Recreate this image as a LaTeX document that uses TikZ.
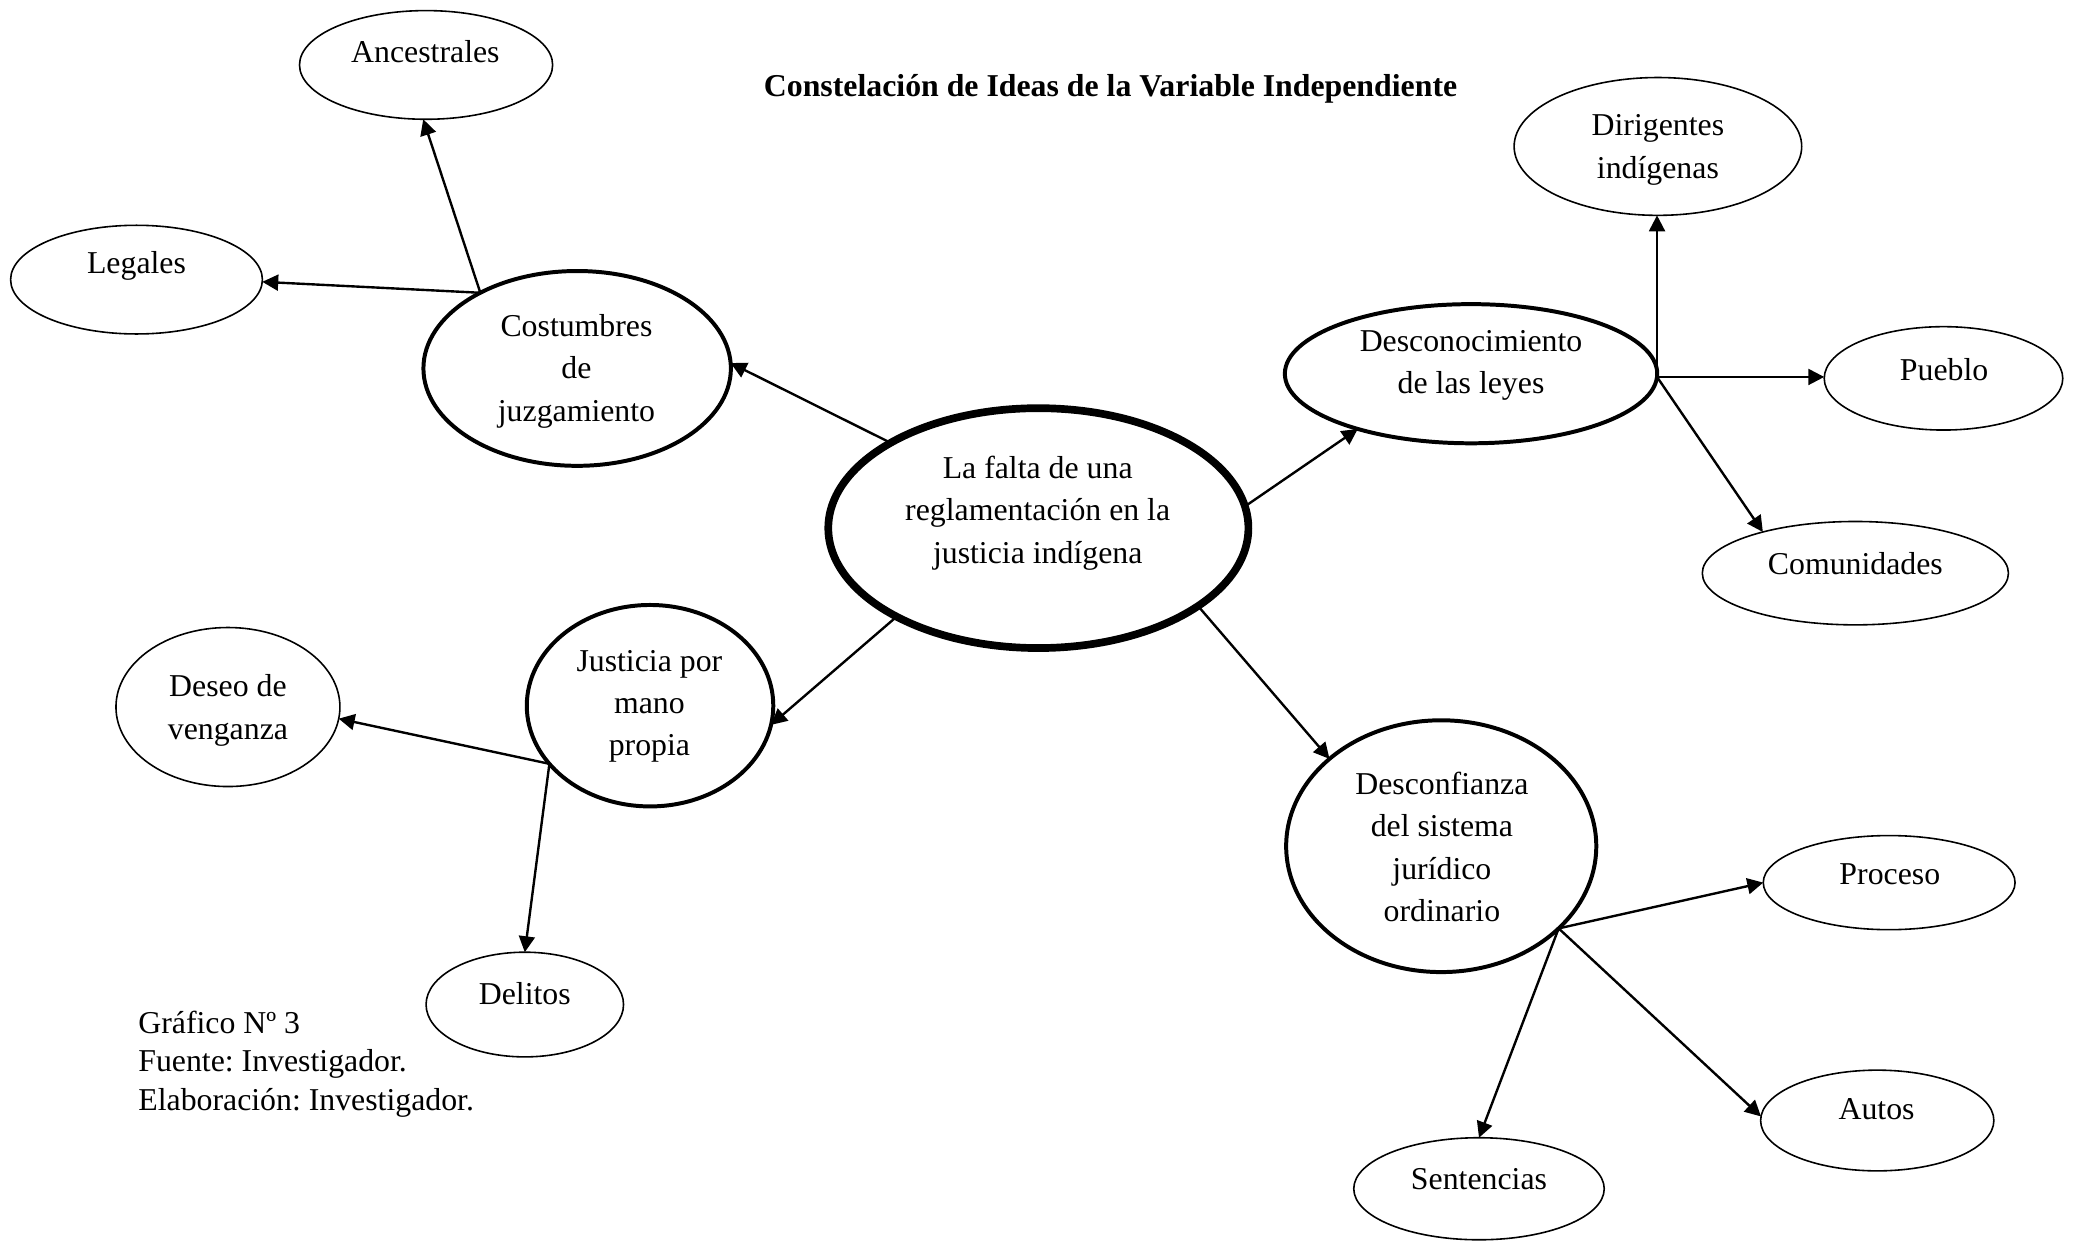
\documentclass[tikz,border=0pt]{standalone}
\usepackage{fontspec}
\setmainfont{Liberation Serif}
\frenchspacing
\usetikzlibrary{shapes.geometric,arrows.meta}
\begin{document}
\begin{tikzpicture}[x=0.5pt,y=-0.5pt,
  every node/.style={font=\fontsize{12pt}{16pt}\selectfont},
  ov/.style={draw,ellipse,inner sep=0pt,outer sep=0pt,line width=0.6pt},
  ovb/.style={ov,line width=1.5pt},
  ovc/.style={ov,line width=2.9pt},
  txt/.style={align=center,inner sep=0pt},
  arr/.style={-{Triangle[length=6pt,width=6pt]},line width=0.9pt}]
\useasboundingbox (0,0) rectangle (1568,936);

% ellipses
\node[ov,minimum width=95.5pt,minimum height=41pt] (anc) at (321.5,49) {};
\node[ov,minimum width=95pt,minimum height=41pt] (leg) at (103,211) {};
\node[ovb,minimum width=116pt,minimum height=73.5pt] (cost) at (435.5,278) {};
\node[ovc,minimum width=158.5pt,minimum height=90.5pt] (cen) at (783.5,398.5) {};
\node[ovb,minimum width=140.5pt,minimum height=52.5pt] (desc) at (1110,282) {};
\node[ov,minimum width=108.5pt,minimum height=52pt] (dir) at (1251,110.5) {};
\node[ov,minimum width=90pt,minimum height=39pt] (pue) at (1466.5,285.5) {};
\node[ov,minimum width=115.5pt,minimum height=39pt] (com) at (1400,432.5) {};
\node[ovb,minimum width=93pt,minimum height=76pt] (jus) at (490.5,532.5) {};
\node[ov,minimum width=84.5pt,minimum height=60pt] (des) at (172,533.5) {};
\node[ov,minimum width=74.5pt,minimum height=39.5pt] (deli) at (396,758) {};
\node[ovb,minimum width=117pt,minimum height=95pt] (conf) at (1087.5,638.5) {};
\node[ov,minimum width=95pt,minimum height=35.5pt] (pro) at (1425.5,666) {};
\node[ov,minimum width=88pt,minimum height=38pt] (aut) at (1416.5,845.5) {};
\node[ov,minimum width=94.5pt,minimum height=38.5pt] (sen) at (1116,897) {};

% texts
\node[txt] (t-anc) at (321,39) {Ancestrales};
\node[txt] (t-leg) at (103,201) {Legales};
\node[txt] (t-cost) at (435,280) {Costumbres\\de\\juzgamiento};
\node[txt] (t-cen) at (783,387) {La falta de una\\reglamentación en la\\justicia indígena};
\node[txt] (t-desc) at (1110,275.5) {Desconocimiento\\de las leyes};
\node[txt] (t-dir) at (1251,113) {Dirigentes\\indígenas};
\node[txt] (t-pue) at (1467,279) {Pueblo};
\node[txt] (t-com) at (1400,425) {Comunidades};
\node[txt] (t-jus) at (490,533) {Justicia por\\mano\\propia};
\node[txt] (t-des) at (172,536) {Deseo de\\venganza};
\node[txt] (t-deli) at (396,750) {Delitos};
\node[txt] (t-conf) at (1088,639) {Desconfianza\\del sistema\\jurídico\\ordinario};
\node[txt] (t-pro) at (1426,660) {Proceso};
\node[txt] (t-aut) at (1416,837) {Autos};
\node[txt] (t-sen) at (1116,890) {Sentencias};

\node[inner sep=0pt,font=\bfseries\fontsize{12pt}{16pt}\selectfont] (title) at (838,67) {Constelación de Ideas de la Variable Independiente};
\node[inner sep=0pt,align=left,anchor=west,font=\fontsize{12pt}{14.5pt}\selectfont] (cap) at (104,803) {Gráfico Nº 3\\Fuente: Investigador.\\Elaboración: Investigador.};

% connectors
\draw[arr] (cen.150) -- (cost.2);
\coordinate (cb) at (cost.142);
\draw[arr] (cb) -- (anc.267);
\draw[arr] (cb) -- (leg.359);

\draw[arr] (cen.6) -- (desc.206);
\coordinate (db) at (desc.359);
\draw[arr] (db) -- (db |- dir.south);
\draw[arr] (db) -- (db -| pue.west);
\draw[arr] (db) -- (com.156);

\draw[arr] (cen.212) -- (jus.351);
\coordinate (jb) at (jus.210);
\draw[arr] (jb) -- (des.354);
\draw[arr] (jb) -- (deli.north);

\draw[arr] (cen.334) -- (conf.142);
\coordinate (fb) at (conf.325);
\draw[arr] (fb) -- (pro.180);
\draw[arr] (fb) -- (aut.178);
\draw[arr] (fb) -- (sen.north);
\end{tikzpicture}
\end{document}
